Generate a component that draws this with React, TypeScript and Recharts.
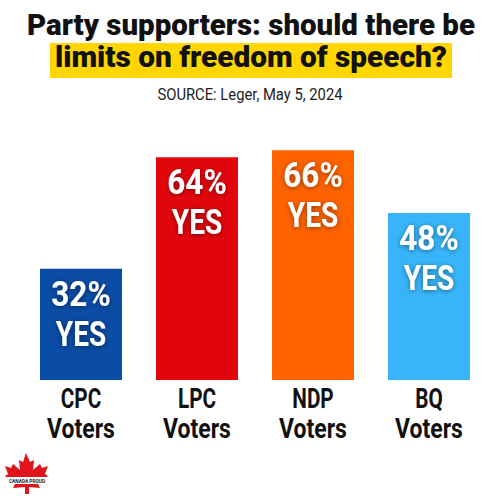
import React from 'react';
import { BarChart, Bar, XAxis, YAxis, Cell, LabelList } from 'recharts';

const categories = ['CPC', 'LPC', 'NDP', 'BQ'];
const yesValues = [32, 64, 66, 48];
const barColors = ['#0a4ca6', '#e1060c', '#ff6300', '#38b5fa'];
const titleLine1 = 'Party supporters: should there be';
const titleLine2 = 'limits on freedom of speech?';
const sourceText = 'SOURCE: Leger, May 5, 2024';

const data = categories.map((c, i) => ({ party: c, yes: yesValues[i] }));

const FONT = 'Roboto, "Noto Sans", sans-serif';

const Tick = (props: any) => {
  const { x, y, payload } = props;
  return (
    <g>
      <g transform={`translate(${x},${y + 20}) scale(0.74,1)`}>
        <text x={0} y={0} textAnchor="middle" fontFamily={FONT} fontWeight={700} fontSize={28} fill="#111">
          {payload.value}
        </text>
      </g>
      <g transform={`translate(${x},${y + 50}) scale(0.82,1)`}>
        <text x={0} y={0} textAnchor="middle" fontFamily={FONT} fontWeight={700} fontSize={28} fill="#111">
          Voters
        </text>
      </g>
    </g>
  );
};

const BarLabel = (props: any) => {
  const { x, y, width, value } = props;
  const cx = x + width / 2;
  return (
    <g filter="url(#txtShadow)">
      <g transform={`translate(${cx},${y + 37}) scale(0.9,1)`}>
        <text x={0} y={0} textAnchor="middle" fontFamily={FONT} fontWeight={700} fontSize={35} fill="#fff">
          {`${value}%`}
        </text>
      </g>
      <g transform={`translate(${cx},${y + 77}) scale(0.8,1)`}>
        <text x={0} y={0} textAnchor="middle" fontFamily={FONT} fontWeight={700} fontSize={35} fill="#fff">
          YES
        </text>
      </g>
    </g>
  );
};

export default function App() {
  return (
    <div style={{ position: 'absolute', left: 0, top: 0, width: 500, height: 500, background: '#fff', overflow: 'hidden' }}>
      <BarChart width={500} height={500} data={data} margin={{ top: 32, right: 13, left: 23, bottom: 0 }}>
        <defs>
          <filter id="txtShadow" x="-30%" y="-30%" width="160%" height="160%">
            <feDropShadow dx="0" dy="1" stdDeviation="2.5" floodColor="#000" floodOpacity="0.45" />
          </filter>
        </defs>
        <XAxis dataKey="party" axisLine={false} tickLine={false} height={120} tick={<Tick />} interval={0} />
        <YAxis hide domain={[0, 100]} />
        <Bar dataKey="yes" barSize={82} isAnimationActive={false}>
          {data.map((d, i) => (
            <Cell key={d.party} fill={barColors[i]} />
          ))}
          <LabelList dataKey="yes" content={<BarLabel />} />
        </Bar>
      </BarChart>
      <svg style={{ position: 'absolute', left: 0, top: 0 }} width={500} height={110}>
        <text x={251} y={35} textAnchor="middle" textLength={448} lengthAdjust="spacingAndGlyphs" fontFamily={FONT} fontWeight={900} fontSize={30} fill="#111">
          {titleLine1}
        </text>
        <rect x={50} y={43} width={402} height={35} fill="#ffd600" />
        <text x={251} y={67} textAnchor="middle" textLength={392} lengthAdjust="spacingAndGlyphs" fontFamily={FONT} fontWeight={900} fontSize={30} fill="#111">
          {titleLine2}
        </text>
        <text x={250} y={100} textAnchor="middle" textLength={185} lengthAdjust="spacingAndGlyphs" fontFamily={FONT} fontWeight={400} fontSize={17} fill="#222">
          {sourceText}
        </text>
      </svg>
      <svg style={{ position: 'absolute', left: 0, top: 450 }} width={60} height={50}>
        <polygon
          fill="#e0141b"
          points="26,3 30,12 34,10 33,20 40,14 42,18 48,16 45,24 48,26 38,34 40,38 29,37 29,44 25,44 25,37 13,38 15,34 5,26 8,24 5,16 11,18 13,14 20,20 19,10 23,12"
        />
        <rect x={7} y={27} width={40} height={7} fill="#fff" />
        <text x={27} y={32.5} textAnchor="middle" textLength={36} lengthAdjust="spacingAndGlyphs" fontFamily={FONT} fontWeight={700} fontSize={6} fill="#222">
          CANADA PROUD
        </text>
      </svg>
    </div>
  );
}
